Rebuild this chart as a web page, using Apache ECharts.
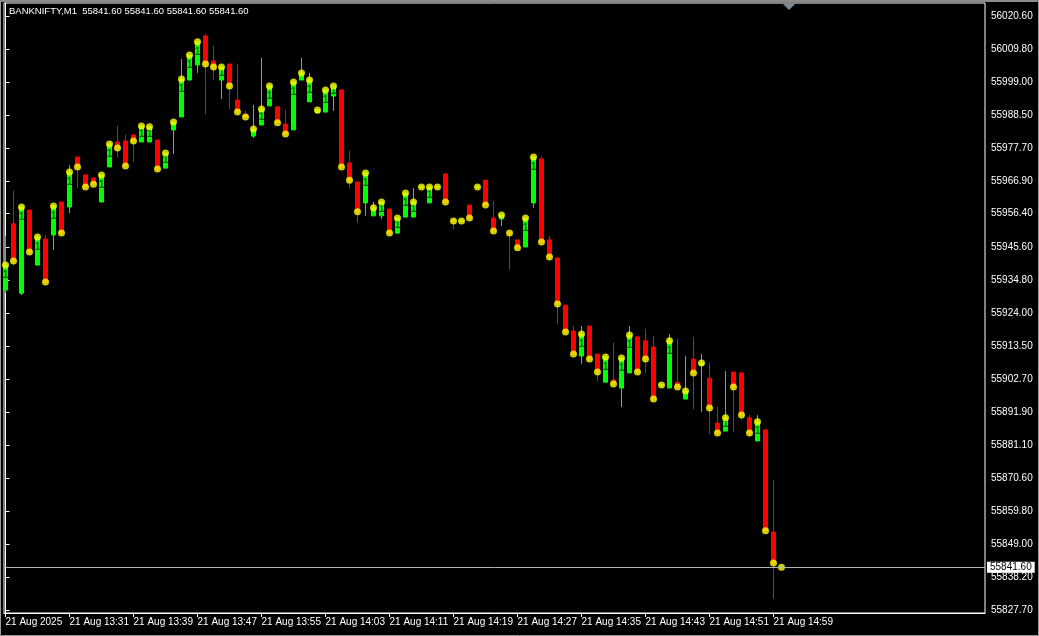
<!DOCTYPE html>
<html>
<head>
<meta charset="utf-8">
<script src="https://cdn.jsdelivr.net/npm/echarts@6/dist/echarts.min.js"></script>
<style>
html,body{margin:0;padding:0;background:#000;}
#c{width:1039px;height:636px;}
</style>
</head>
<body>
<div id="c"></div>
<script>
// BANKNIFTY M1, 21 Aug 2025, 13:23 .. 15:00 (one bar per minute)
const opens = [
55931.6,55953.1,55930.6,55957.6,55939.7,55948.2,55949.5,55960.2,55958.6,55974.8,
55969.0,55968.0,55960.2,55971.6,55979.7,55980.0,55982.0,55979.7,55979.7,55980.3,
55971.2,55983.6,55987.8,55999.8,56004.7,56014.1,56006.0,55999.8,56005.0,55993.3,
55988.5,55981.6,55985.2,55991.4,55991.1,55985.5,55983.6,55999.8,55992.7,55989.1,
55989.4,55994.6,55996.6,55972.9,55966.7,55959.9,55955.7,55955.7,55957.9,55950.1,
55955.3,55955.3,55965.1,55959.9,55965.1,55969.3,55954.4,55954.0,55959.2,55965.1,
55967.3,55955.0,55954.7,55950.4,55947.9,55945.6,55959.9,55974.2,55947.9,55942.0,
55926.7,55918.3,55910.2,55919.9,55910.8,55901.7,55902.4,55899.8,55904.7,55916.4,
55915.1,55913.1,55900.8,55899.8,55901.7,55896.2,55909.2,55907.3,55903.0,55888.4,
55885.8,55905.0,55904.7,55890.1,55882.6,55886.2,55853.0,55841.6];
const closes = [
55939.7,55941.0,55958.6,55944.0,55948.8,55934.2,55958.9,55950.1,55969.9,55971.6,
55965.1,55966.0,55969.0,55979.0,55977.7,55971.9,55980.0,55984.9,55984.6,55970.9,
55976.1,55986.2,56000.1,56007.9,56012.2,56005.0,56004.0,56004.0,55997.9,55989.4,
55987.8,55983.9,55990.4,55997.9,55985.9,55982.3,55999.2,56002.1,55999.8,55990.1,
55996.6,55997.9,55971.6,55967.3,55957.0,55969.6,55958.3,55960.2,55950.1,55955.0,
55963.1,55960.2,55965.1,55965.1,55965.1,55960.2,55954.0,55954.0,55955.0,55965.1,
55959.2,55950.8,55956.0,55950.1,55945.3,55955.0,55974.8,55947.2,55942.3,55927.1,
55918.0,55910.8,55917.3,55909.2,55905.0,55909.9,55901.1,55909.5,55917.0,55905.0,
55909.2,55896.2,55900.8,55915.1,55900.1,55898.8,55904.7,55907.9,55893.3,55885.2,
55890.1,55900.1,55891.0,55885.2,55888.8,55853.4,55843.0,55841.6];
const lows = [
55930.6,55939.7,55930.0,55944.0,55939.7,55933.9,55944.6,55950.1,55956.6,55964.7,
55965.1,55966.0,55960.2,55971.6,55974.8,55971.9,55973.2,55979.7,55979.7,55970.9,
55971.2,55975.8,55987.8,55999.8,56002.1,55988.8,55999.8,55993.6,55990.4,55988.8,
55987.8,55981.0,55985.2,55991.4,55985.9,55982.3,55983.6,55999.8,55992.7,55989.1,
55989.4,55989.8,55971.6,55964.7,55953.4,55955.7,55955.7,55954.7,55950.1,55949.8,
55955.3,55955.3,55965.1,55959.9,55965.1,55960.2,55951.4,55954.0,55955.0,55965.1,
55959.2,55950.8,55952.4,55938.1,55945.3,55945.6,55958.3,55947.2,55941.4,55920.6,
55918.0,55910.8,55907.6,55909.2,55902.1,55901.7,55900.1,55893.6,55904.7,55905.0,
55904.7,55896.2,55900.8,55899.8,55900.1,55896.2,55893.0,55892.0,55884.9,55884.9,
55885.8,55885.5,55889.4,55884.2,55882.6,55853.4,55831.3,55841.6];
const highs = [
55949.2,55963.8,55958.9,55957.6,55949.5,55949.5,55959.2,55960.2,55972.2,55974.8,
55969.0,55968.0,55969.0,55979.4,55984.9,55982.0,55982.0,55984.9,55984.6,55980.3,
55976.1,55986.2,56006.6,56007.9,56012.2,56014.8,56010.9,56004.0,56005.0,56005.0,
55989.8,55991.7,56007.0,55997.9,55991.1,55990.1,55999.2,56007.0,56002.1,55990.1,
55996.6,55997.9,55996.6,55976.8,55966.7,55969.6,55960.2,55960.2,55957.9,55955.0,
55963.1,55964.7,55965.1,55965.1,55965.1,55969.6,55954.4,55954.0,55959.2,55965.1,
55967.3,55960.5,55956.0,55950.4,55947.9,55955.0,55974.8,55975.1,55949.2,55942.3,
55926.7,55919.9,55919.9,55919.9,55910.8,55909.9,55914.4,55909.5,55919.9,55916.4,
55919.0,55916.7,55900.8,55917.3,55915.7,55910.2,55916.4,55910.8,55907.9,55893.6,
55905.3,55905.0,55905.0,55891.0,55891.0,55886.2,55869.9,55841.6];

const xTickLabels = ["21 Aug 2025","21 Aug 13:31","21 Aug 13:39","21 Aug 13:47","21 Aug 13:55",
  "21 Aug 14:03","21 Aug 14:11","21 Aug 14:19","21 Aug 14:27","21 Aug 14:35","21 Aug 14:43",
  "21 Aug 14:51","21 Aug 14:59"];
const yTickLabels = ["56020.60","56009.80","55999.00","55988.50","55977.70","55966.90","55956.40",
  "55945.60","55934.80","55924.00","55913.50","55902.70","55891.90","55881.10","55870.60",
  "55859.80","55849.00","55838.20","55827.70"];
const symbolName = "BANKNIFTY,M1";
const lastPrice = 55841.60;
const barsPerXTick = 8;

const FONT = 'Liberation Sans';
const candleData = opens.map((o, i) => [i, o, closes[i], lows[i], highs[i]]);
const dotData = closes.map((c, i) => [i, c]);
const oneData = [];
opens.forEach((o, i) => {
  const c = closes[i];
  if (c - o >= 3) oneData.push([i, Math.max(c - 3.4, (o + c) / 2)]);
});
const xTickValues = xTickLabels.map((_, k) => k * barsPerXTick);
const yTickValues = yTickLabels.map(Number);

const chart = echarts.init(document.getElementById('c'), null, {renderer: 'canvas'});
chart.setOption({
  backgroundColor: '#000',
  animation: false,
  graphic: [
    {type: 'rect', shape: {x: 0.5, y: 0.5, width: 1038, height: 635}, style: {fill: 'none', stroke: '#9a9a9a', lineWidth: 1}, silent: true},
    {type: 'rect', shape: {x: 0, y: 0, width: 1039, height: 2}, style: {fill: '#8c8c8c'}, silent: true},
    {type: 'polygon', shape: {points: [[783, 4], [795, 4], [789, 10]]}, style: {fill: '#7a8a99'}, silent: true, z: 10},
    {type: 'text', left: 9, top: 6, style: {
      text: symbolName + '  ' + [opens[97], highs[97], lows[97], closes[97]].map(v => v.toFixed(2)).join(' '),
      fill: '#ffffff', font: '9.5px "' + FONT + '"'}, z: 10}
  ],
  grid: {left: 4, right: 54, top: 3, bottom: 23, show: true, borderColor: '#ffffff', borderWidth: 1, backgroundColor: 'transparent', outerBoundsMode: 'none'},
  xAxis: {
    type: 'value', min: -0.1875, max: 122.4375,
    axisLine: {show: true, lineStyle: {color: '#ffffff', width: 1}},
    axisTick: {show: true, length: 4, customValues: xTickValues, lineStyle: {color: '#ffffff'}},
    axisLabel: {show: true, customValues: xTickValues, align: 'left', margin: 4, color: '#ffffff', fontSize: 10, fontFamily: FONT,
      formatter: v => xTickLabels[Math.round(v / barsPerXTick)] || ''},
    splitLine: {show: false}
  },
  yAxis: {
    type: 'value', position: 'right', min: 55826.73, max: 56024.82, scale: true,
    axisLine: {show: true, lineStyle: {color: '#ffffff', width: 1}},
    axisTick: {show: true, length: 4, customValues: yTickValues, lineStyle: {color: '#ffffff'}},
    axisLabel: {show: true, customValues: yTickValues, margin: 6, color: '#ffffff', fontSize: 10, fontFamily: FONT,
      formatter: v => v.toFixed(2)},
    splitLine: {show: false}
  },
  series: [
    {
      type: 'candlestick',
      data: candleData,
      encode: {x: 0, y: [1, 2, 3, 4]},
      barWidth: 4,
      clip: true,
      itemStyle: {color: '#00ff00', color0: '#ff0000', borderColor: '#00ff00', borderColor0: '#ff0000', borderColorDoji: '#00ff00', borderWidth: 1},
      markLine: {
        silent: true, symbol: 'none', animation: false,
        lineStyle: {color: '#b4b4b4', width: 1, type: 'solid'},
        label: {show: true, position: 'end', distance: 2, formatter: lastPrice.toFixed(2), color: '#000', backgroundColor: '#ffffff',
          padding: [1, 3, 0, 3], fontSize: 10, fontFamily: FONT},
        data: [{yAxis: lastPrice}]
      },
      z: 2
    },
    {
      type: 'scatter', data: oneData, symbol: 'circle', symbolSize: 8,
      itemStyle: {color: '#00ff00', opacity: 0},
      label: {show: true, position: 'inside', formatter: '1', color: '#006400', fontSize: 10, fontWeight: 'bold', fontFamily: FONT, opacity: 1},
      labelLayout: {hideOverlap: false},
      emphasis: {disabled: true},
      silent: true, z: 3
    },
    {
      type: 'scatter', data: dotData, symbol: 'circle', symbolSize: 7,
      itemStyle: {color: '#ffff00'}, silent: true, z: 4
    }
  ]
});
</script>
</body>
</html>
